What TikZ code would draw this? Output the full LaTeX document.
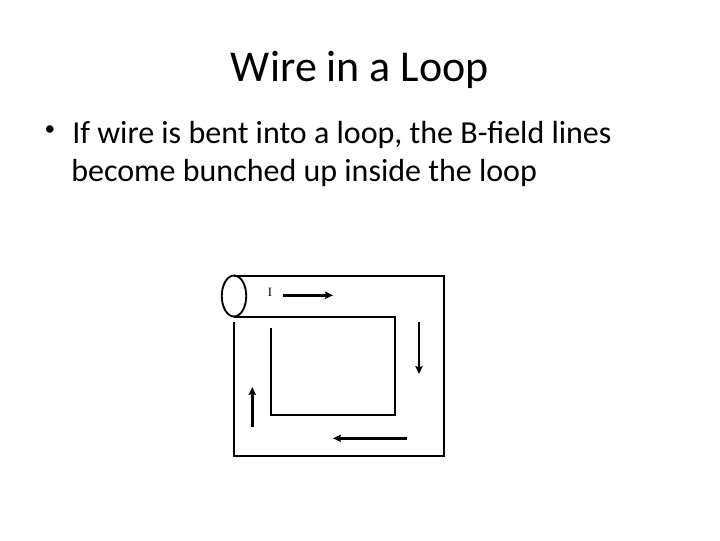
\documentclass[tikz,border=0pt]{standalone}
\usepackage{fontspec}
\setmainfont{Carlito}
\usetikzlibrary{shapes.geometric,arrows.meta}
\newfontfamily\serifsmall{Liberation Serif}
\tikzset{wire/.style={draw=black,line width=1.4pt,line cap=butt,line join=miter},
 flow/.style={draw=black,line width=1.9pt,-{Stealth[length=6pt,width=5.5pt,inset=1pt]}},
 title/.style={font=\fontsize{33}{40}\selectfont,inner sep=0pt},
 body/.style={font=\fontsize{24}{29}\selectfont,inner sep=0pt,anchor=west}}
\begin{document}
\begin{tikzpicture}[x=0.75pt,y=-0.75pt]
\useasboundingbox (0,0) rectangle (720,540);
\node[title] (t) at (360,69.5) {Wire in a Loop};
\node[font=\fontsize{16}{20}\selectfont,inner sep=0pt] (b0) at (50,131) {\textbullet};
\node[body] (b2) at (72,134.5) {If wire is bent into a loop, the B-field lines};
\node[body] (b3) at (71,172.5) {become bunched up inside the loop};
\node[draw=black,line width=1.4pt,ellipse,minimum width=24.5*0.75pt,minimum height=41*0.75pt,inner sep=0pt] (e) at (234,296) {};
\coordinate (ot) at (234,275.7);
\coordinate (otr) at (444,275.7);
\coordinate (obr) at (444,455.7);
\coordinate (obl) at (234,455.7);
\coordinate (ol) at (234,322);
\coordinate (ib) at (234,316.8);
\coordinate (itr) at (394.7,316.8);
\coordinate (ibr) at (394.7,414.7);
\coordinate (ibl) at (271,414.7);
\coordinate (il) at (271,328);
\draw[wire] (ot) -- (otr) -- (obr) -- (obl) -- (ol);
\draw[wire] (ib) -- (itr) -- (ibr) -- (ibl) -- (il);
\node[font=\serifsmall\fontsize{9.5}{11}\selectfont,inner sep=0pt] (i) at (270,292) {I};
\coordinate (a1) at (283,295.3); \coordinate (a2) at (333,295.3);
\coordinate (b1) at (419,322); \coordinate (b2p) at (419,374);
\coordinate (c1) at (407,438.3); \coordinate (c2) at (333,438.3);
\coordinate (d1) at (252.3,427); \coordinate (d2) at (252.3,387);
\draw[flow] (a1) -- (a2);
\draw[flow] (b1) -- (b2p);
\draw[flow] (c1) -- (c2);
\draw[flow] (d1) -- (d2);
\end{tikzpicture}
\end{document}
